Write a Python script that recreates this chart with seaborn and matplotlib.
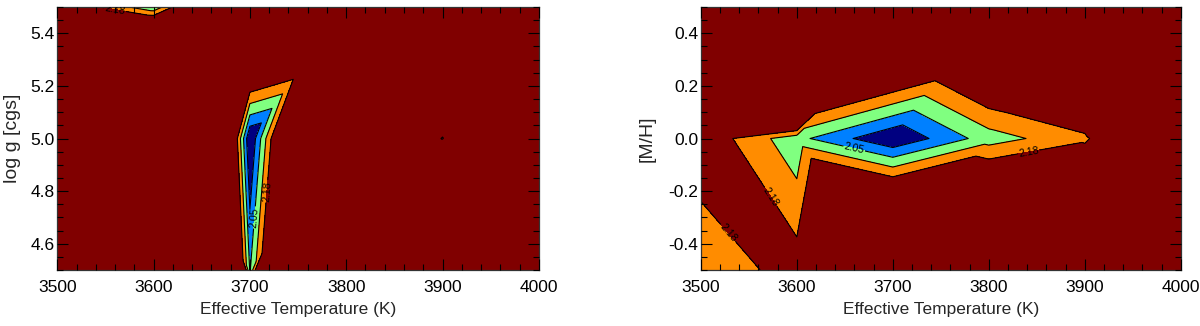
import matplotlib
matplotlib.use("Agg")
import matplotlib.pyplot as plt
import matplotlib.tri as mtri
import numpy as np
import seaborn as sns
from matplotlib.ticker import FormatStrFormatter, MultipleLocator

# grid nodes
teff = [3500, 3600, 3700, 3800, 3900, 4000]
logg = [4.5, 5.0, 5.5]
mh = [-0.5, 0.0, 0.5]

# chi2 at the nodes, one list per row of the second parameter
chi_logg_45 = [7.0, 5.5, 2.045, 4.5, 5.5, 6.5]
chi_logg_50 = [4.0, 3.95, 1.915, 3.12, 2.165, 4.0]
chi_logg_55 = [2.274, 2.06, 2.668, 2.504, 3.5, 4.5]

chi_mh_m05 = [2.12, 2.217, 2.80, 2.697, 2.6, 2.8]
chi_mh_00 = [2.235, 2.07, 1.925, 2.084, 2.164, 2.484]
chi_mh_p05 = [3.5, 3.9, 2.649, 2.505, 2.576, 3.0]

levels = [1.985, 2.05, 2.115, 2.18]
labelled = [2.05, 2.18]
fill_colors = ["#000080", "#0080ff", "#80ff80", "#ff8c00", "#800000"]

label_pos_logg = [(3560, 5.492), (3717, 4.80), (3704, 4.70)]
label_pos_mh = [(3660, -0.035), (3841, -0.041), (3573, -0.222), (3528, -0.36)]


def grid_triangles(nx, ny, xs):
    # IDL-like triangulation of the regular grid
    tris = []
    for j in range(ny - 1):
        for i in range(nx - 1):
            a = j * nx + i
            b = a + 1
            c = a + nx
            d = c + 1
            if j == 0 and xs[i] < 3700:
                tris += [[a, b, c], [b, d, c]]
            else:
                tris += [[a, b, d], [a, d, c]]
    return tris


def draw_panel(ax, yvals, rows, ylabel, label_pos, labelpad):
    xx, yy = np.meshgrid(teff, yvals)
    z = np.concatenate([np.asarray(r, dtype=float) for r in rows])
    tri = mtri.Triangulation(xx.ravel(), yy.ravel(), grid_triangles(len(teff), len(yvals), teff))
    ax.tricontourf(tri, z, levels=[0.0] + levels + [20.0], colors=fill_colors)
    plain = [lv for lv in levels if lv not in labelled]
    ax.tricontour(tri, z, levels=plain, colors="black", linewidths=0.8)
    cs = ax.tricontour(tri, z, levels=labelled, colors="black", linewidths=0.8)
    ax.clabel(cs, manual=label_pos, fmt="%.2f", fontsize=7.5, inline=True, inline_spacing=1)

    ax.set_axisbelow(False)
    ax.set_xlim(3500, 4000)
    ax.set_ylim(yvals[0], yvals[-1])
    ax.xaxis.set_major_locator(MultipleLocator(100))
    ax.xaxis.set_minor_locator(MultipleLocator(20))
    ax.yaxis.set_major_locator(MultipleLocator(0.2))
    ax.yaxis.set_minor_locator(MultipleLocator(0.05))
    ax.yaxis.set_major_formatter(FormatStrFormatter("%.1f"))
    ax.tick_params(which="both", direction="in", top=True, right=True, width=0.8, colors="black")
    ax.tick_params(which="major", length=8, labelsize=12.5)
    ax.tick_params(which="minor", length=4)
    ax.tick_params(axis="x", which="major", pad=7)
    ax.tick_params(axis="y", which="major", pad=2)
    for sp in ax.spines.values():
        sp.set_color("#333333")
        sp.set_linewidth(0.9)
    ax.set_xlabel("Effective Temperature (K)", fontsize=12.5, labelpad=5)
    ax.set_ylabel(ylabel, fontsize=14, labelpad=labelpad)


sns.set_theme(style="ticks")
plt.rcParams["font.family"] = ["Liberation Sans", "DejaVu Sans"]

fig = plt.figure(figsize=(12, 3.26), dpi=100)
ax1 = fig.add_axes([0.04775, 0.1718, 0.40125, 0.8067])
ax2 = fig.add_axes([0.584, 0.1718, 0.40, 0.8067])

draw_panel(ax1, logg, [chi_logg_45, chi_logg_50, chi_logg_55], "log g [cgs]", label_pos_logg, 7)
draw_panel(ax2, mh, [chi_mh_m05, chi_mh_00, chi_mh_p05], "[M/H]", label_pos_mh, 9)

fig.savefig("out.png", dpi=100)
